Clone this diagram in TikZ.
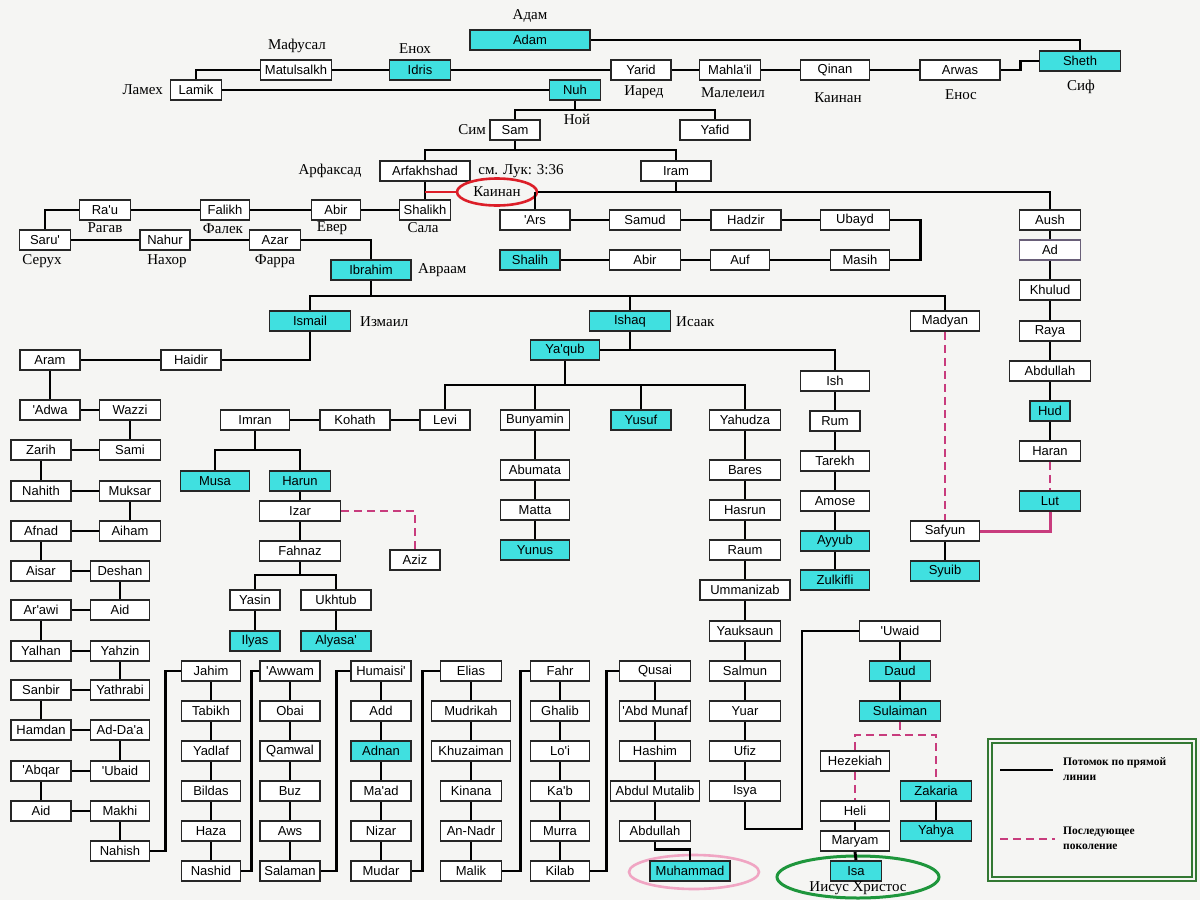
\documentclass[tikz,border=0pt]{standalone}
\usepackage{fontspec}
\setmainfont{Liberation Sans}
\newfontfamily\serf{Liberation Serif}
\usetikzlibrary{shapes.geometric,calc}
\definecolor{bgc}{RGB}{245,245,243}
\definecolor{cyn}{RGB}{64,224,224}
\definecolor{pnk}{RGB}{200,60,125}
\definecolor{redc}{RGB}{220,30,40}
\definecolor{grn}{RGB}{30,150,60}
\definecolor{lgrn}{RGB}{50,120,50}
\definecolor{pinkell}{RGB}{240,165,195}
\definecolor{adc}{RGB}{105,95,120}
\newcommand\ap{\textquotesingle}
\newcommand\nbx[5]{\node[box,minimum width=#4pt] (#1) at (#2,#3) {#5};}
\newcommand\ncx[5]{\node[cbox,minimum width=#4pt] (#1) at (#2,#3) {#5};}
\newcommand\vc[2]{\draw[con] (#1.south) -- (#2.north);}
\newcommand\hc[2]{\draw[con] (#1.east) -- (#2.west);}
\begin{document}
\begin{tikzpicture}[x=1pt,y=-1pt,
 box/.style={draw=black!85, line width=1.7pt, fill=white, minimum height=20pt, inner sep=0pt, font=\fontsize{13}{15}\selectfont},
 cbox/.style={box, fill=cyn},
 lab/.style={font=\serf\fontsize{15}{17}\selectfont, inner sep=0pt},
 con/.style={line width=2.9pt},
 dsh/.style={draw=pnk, line width=2.9pt, dash pattern=on 8pt off 5pt},
 legt/.style={font=\serf\bfseries\fontsize{11.5}{13}\selectfont, inner sep=0pt, anchor=west}]
\fill[bgc] (0,0) rectangle (1200,900);
\useasboundingbox (0,0) rectangle (1200,900);

% ---------- top ----------
\ncx{adam}{530}{40}{120}{Adam}
\ncx{sheth}{1080}{61}{81}{Sheth}
\nbx{arwas}{960}{70}{80}{Arwas}
\nbx{qinan}{835}{70}{69}{Qinan}
\nbx{mahlail}{730}{70}{61}{Mahla\ap il}
\nbx{yarid}{641}{70}{60}{Yarid}
\ncx{idris}{420}{70}{61}{Idris}
\nbx{matul}{296}{70}{71}{Matulsalkh}
\nbx{lamik}{196}{90}{51}{Lamik}
\ncx{nuh}{575}{90}{51}{Nuh}
\nbx{sam}{515}{130}{50}{Sam}
\nbx{yafid}{715}{130}{70}{Yafid}
\nbx{arfa}{425}{171}{90}{Arfakhshad}
\nbx{iram}{676}{171}{70}{Iram}
\node[ellipse, draw=redc, line width=2.6pt, minimum width=80pt, minimum height=27pt, inner sep=0pt, lab] (kainan) at (497,192) {Каинан};
\nbx{shalikh}{425}{210}{51}{Shalikh}
\nbx{abira}{336}{210}{49}{Abir}
\nbx{falikh}{225}{210}{49}{Falikh}
\nbx{rau}{105}{210}{51}{Ra\ap u}
\nbx{saru}{45}{240}{51}{Saru\ap}
\nbx{nahur}{165}{240}{50}{Nahur}
\nbx{azar}{275}{240}{51}{Azar}
\ncx{ibrahim}{371}{270}{80}{Ibrahim}
\nbx{ars}{535}{220}{70}{\ap Ars}
\nbx{samud}{645}{220}{71}{Samud}
\nbx{hadzir}{746}{220}{70}{Hadzir}
\nbx{ubayd}{855}{220}{69}{Ubayd}
\ncx{shalih}{530}{260}{60}{Shalih}
\nbx{abirb}{645}{260}{71}{Abir}
\nbx{auf}{740}{260}{59}{Auf}
\nbx{masih}{860}{260}{59}{Masih}
\nbx{aush}{1050}{220}{61}{Aush}
\node[box, draw=adc, minimum width=61pt] (ad) at (1050,250) {Ad};
\nbx{khulud}{1050}{290}{61}{Khulud}
\nbx{raya}{1050}{331}{61}{Raya}
\nbx{abdullaha}{1050}{371}{81}{Abdullah}
\ncx{hud}{1050}{411}{40}{Hud}
\nbx{haran}{1050}{451}{61}{Haran}
\ncx{lut}{1050}{501}{61}{Lut}
\ncx{ismail}{310}{321}{81}{Ismail}
\ncx{ishaq}{630}{321}{81}{Ishaq}
\nbx{madyan}{945}{321}{69}{Madyan}
\nbx{safyun}{945}{531}{69}{Safyun}
\ncx{syuib}{945}{571}{69}{Syuib}
\nbx{aram}{50}{360}{60}{Aram}
\nbx{haidir}{191}{360}{60}{Haidir}
\ncx{yaqub}{565}{350}{69}{Ya\ap qub}
\nbx{ish}{835}{381}{69}{Ish}
\nbx{levi}{445}{420}{50}{Levi}
\nbx{bunyamin}{535}{420}{69}{Bunyamin}
\ncx{yusuf}{641}{420}{60}{Yusuf}
\nbx{yahudza}{745}{420}{71}{Yahudza}
\nbx{kohath}{355}{420}{70}{Kohath}
\nbx{imran}{255}{420}{69}{Imran}
\ncx{musa}{215}{481}{69}{Musa}
\ncx{harun}{300}{481}{61}{Harun}
\nbx{izar}{300}{511}{81}{Izar}
\nbx{aziz}{415}{560}{50}{Aziz}
\nbx{fahnaz}{300}{551}{81}{Fahnaz}
\nbx{yasin}{255}{600}{50}{Yasin}
\nbx{ukhtub}{336}{600}{70}{Ukhtub}
\ncx{ilyas}{255}{641}{50}{Ilyas}
\ncx{alyasa}{336}{641}{70}{Alyasa\ap}
\nbx{abumata}{535}{470}{69}{Abumata}
\nbx{matta}{535}{510}{69}{Matta}
\ncx{yunus}{535}{550}{69}{Yunus}
\nbx{bares}{745}{470}{71}{Bares}
\nbx{hasrun}{745}{510}{71}{Hasrun}
\nbx{raum}{745}{550}{71}{Raum}
\nbx{ummanizab}{745}{590}{90}{Ummanizab}
\nbx{yauksaun}{745}{631}{71}{Yauksaun}
\nbx{salmun}{745}{671}{71}{Salmun}
\nbx{yuar}{745}{711}{71}{Yuar}
\nbx{ufiz}{745}{751}{71}{Ufiz}
\nbx{isya}{745}{791}{71}{Isya}
\nbx{rum}{835}{421}{50}{Rum}
\nbx{tarekh}{835}{461}{69}{Tarekh}
\nbx{amose}{835}{501}{69}{Amose}
\ncx{ayyub}{835}{541}{69}{Ayyub}
\ncx{zulkifli}{835}{580}{69}{Zulkifli}
\nbx{uwaid}{900}{631}{81}{\ap Uwaid}
\ncx{daud}{900}{671}{61}{Daud}
\ncx{sulaiman}{900}{711}{81}{Sulaiman}
\nbx{hezekiah}{855}{761}{69}{Hezekiah}
\ncx{zakaria}{936}{791}{71}{Zakaria}
\ncx{yahya}{936}{831}{71}{Yahya}
\nbx{heli}{855}{811}{69}{Heli}
\nbx{maryam}{855}{841}{69}{Maryam}
\draw[grn, line width=3pt] (858,877) ellipse (81pt and 21pt);
\ncx{isa}{856}{871}{51}{Isa}
\draw[pinkell, line width=2.6pt] (694,872) ellipse (65pt and 17pt);
\node[cbox, line width=2.8pt, minimum width=80pt] (muhammad) at (690,871) {Muhammad};
\nbx{abdullahb}{655}{831}{71}{Abdullah}
\nbx{abdulmut}{655}{791}{89}{Abdul Mutalib}
\nbx{hashim}{655}{751}{71}{Hashim}
\nbx{abdmunaf}{655}{711}{71}{\ap Abd Munaf}
\nbx{qusai}{655}{671}{71}{Qusai}

% left ladder
\nbx{adwa}{50}{410}{60}{\ap Adwa}
\nbx{wazzi}{130}{410}{61}{Wazzi}
\nbx{zarih}{41}{450}{60}{Zarih}
\nbx{sami}{130}{450}{61}{Sami}
\nbx{nahith}{41}{491}{60}{Nahith}
\nbx{muksar}{130}{491}{61}{Muksar}
\nbx{afnad}{41}{531}{60}{Afnad}
\nbx{aiham}{130}{531}{61}{Aiham}
\nbx{aisar}{41}{571}{60}{Aisar}
\nbx{deshan}{120}{571}{59}{Deshan}
\nbx{arawi}{41}{610}{60}{Ar\ap awi}
\nbx{aida}{120}{610}{59}{Aid}
\nbx{yalhan}{41}{651}{60}{Yalhan}
\nbx{yahzin}{120}{651}{59}{Yahzin}
\nbx{sanbir}{41}{690}{60}{Sanbir}
\nbx{yathrabi}{120}{690}{59}{Yathrabi}
\nbx{hamdan}{41}{730}{60}{Hamdan}
\nbx{adda}{120}{730}{59}{Ad-Da\ap a}
\nbx{abqar}{41}{771}{60}{\ap Abqar}
\nbx{ubaid}{120}{771}{59}{\ap Ubaid}
\nbx{aidb}{41}{811}{60}{Aid}
\nbx{makhi}{120}{811}{59}{Makhi}
\nbx{nahish}{120}{851}{59}{Nahish}

% bottom columns
\nbx{jahim}{211}{671}{59}{Jahim}
\nbx{tabikh}{211}{711}{59}{Tabikh}
\nbx{yadlaf}{211}{751}{59}{Yadlaf}
\nbx{bildas}{211}{791}{59}{Bildas}
\nbx{haza}{211}{831}{59}{Haza}
\nbx{nashid}{211}{871}{59}{Nashid}
\nbx{awwam}{290}{671}{60}{\ap Awwam}
\nbx{obai}{290}{711}{60}{Obai}
\nbx{qamwal}{290}{751}{60}{Qamwal}
\nbx{buz}{290}{791}{60}{Buz}
\nbx{aws}{290}{831}{60}{Aws}
\nbx{salaman}{290}{871}{60}{Salaman}
\nbx{humaisi}{381}{671}{60}{Humaisi\ap}
\nbx{add}{381}{711}{60}{Add}
\ncx{adnan}{381}{751}{60}{Adnan}
\nbx{maad}{381}{791}{60}{Ma\ap ad}
\nbx{nizar}{381}{831}{60}{Nizar}
\nbx{mudar}{381}{871}{60}{Mudar}
\nbx{elias}{471}{671}{61}{Elias}
\nbx{mudrikah}{471}{711}{79}{Mudrikah}
\nbx{khuzaiman}{471}{751}{79}{Khuzaiman}
\nbx{kinana}{471}{791}{61}{Kinana}
\nbx{annadr}{471}{831}{61}{An-Nadr}
\nbx{malik}{471}{871}{61}{Malik}
\nbx{fahr}{560}{671}{59}{Fahr}
\nbx{ghalib}{560}{711}{59}{Ghalib}
\nbx{loi}{560}{751}{59}{Lo\ap i}
\nbx{kab}{560}{791}{59}{Ka\ap b}
\nbx{murra}{560}{831}{59}{Murra}
\nbx{kilab}{560}{871}{59}{Kilab}

% ---------- labels ----------
\node[lab] at (530,16) {Адам};
\node[lab] at (297,46) {Мафусал};
\node[lab] at (415,49) {Енох};
\node[lab, anchor=east] at (163,90) {Ламех};
\node[lab] at (644,92) {Иаред};
\node[lab] at (733,93) {Малелеил};
\node[lab] at (838,98) {Каинан};
\node[lab] at (961,95) {Енос};
\node[lab] at (1081,87) {Сиф};
\node[lab] at (577,119) {Ной};
\node[lab, anchor=east] at (486,130) {Сим};
\node[lab] at (330,171) {Арфаксад};
\node[lab] at (521,171) {см. Лук: 3:36};
\node[lab] at (423,228) {Сала};
\node[lab] at (332,228) {Евер};
\node[lab] at (223,229) {Фалек};
\node[lab] at (105,228) {Рагав};
\node[lab] at (42,261) {Серух};
\node[lab] at (167,261) {Нахор};
\node[lab] at (275,261) {Фарра};
\node[lab, anchor=west] at (418,270) {Авраам};
\node[lab, anchor=west] at (360,322) {Измаил};
\node[lab, anchor=west] at (676,322) {Исаак};
\node[lab] at (858,888) {Иисус Христос};

% ---------- connectors ----------
\coordinate (fN) at (575,110);
\coordinate (fS) at (515,150);
\coordinate (kr) at (425,192);
\coordinate (fI) at (371,296);
\coordinate (fY) at (565,385);
\coordinate (fM) at (255,450);
\coordinate (fF) at (300,575);
\coordinate (cU) at (802,829);
\coordinate (fSu) at (900,735);

\draw[con] (adam.east) -| (sheth.north);
\draw[con] (arwas.east) -- ++(20,0) |- (sheth.west);
\hc{qinan}{arwas} \hc{mahlail}{qinan} \hc{yarid}{mahlail} \hc{idris}{yarid} \hc{matul}{idris}
\draw[con] (matul.west) -| (lamik.north);
\hc{lamik}{nuh}
\draw[con] (nuh.south) -- (fN);
\draw[con] (sam.north) |- (fN) -| (yafid.north);
\draw[con] (sam.south) -- (fS);
\draw[con] (arfa.north) |- (fS) -| (iram.north);
\vc{arfa}{shalikh}
\draw[redc, line width=2.9pt] (kr) -- (kainan.west);
\draw[con] (kainan.east) -| (aush.north);
\draw[con] (iram.south) -- (iram.south |- kainan.east);
\draw[con] (ars.north) -- (ars.north |- kainan.east);
\hc{abira}{shalikh} \hc{falikh}{abira} \hc{rau}{falikh}
\draw[con] (rau.west) -| (saru.north);
\hc{saru}{nahur} \hc{nahur}{azar}
\draw[con] (azar.east) -| (ibrahim.north);
\draw[con] (ibrahim.south) -- (fI);
\draw[con] (ismail.north) |- (fI) -| (madyan.north);
\draw[con] (ishaq.north) -- (ishaq.north |- fI);
\hc{ars}{samud} \hc{samud}{hadzir} \hc{hadzir}{ubayd}
\draw[con] (ubayd.east) -- ++(30,0) |- (masih.east);
\hc{shalih}{abirb} \hc{abirb}{auf} \hc{auf}{masih}
\vc{aush}{ad} \vc{ad}{khulud} \vc{khulud}{raya} \vc{raya}{abdullaha} \vc{abdullaha}{hud} \vc{hud}{haran}
\draw[con] (ismail.south) |- (haidir.east);
\hc{aram}{haidir}
\draw[con] (yaqub.east) -| (ish.north);
\draw[con] (ishaq.south) -- (ishaq.south |- yaqub.east);
\draw[con] (yaqub.south) -- (fY);
\draw[con] (levi.north) |- (fY) -| (yahudza.north);
\draw[con] (bunyamin.north) -- (bunyamin.north |- fY);
\draw[con] (yusuf.north) -- (yusuf.north |- fY);
\hc{kohath}{levi} \hc{imran}{kohath}
\draw[con] (imran.south) -- (fM);
\draw[con] (musa.north) |- (fM) -| (harun.north);
\vc{harun}{izar} \vc{izar}{fahnaz}
\draw[con] (fahnaz.south) -- (fF);
\draw[con] (yasin.north) |- (fF) -| (ukhtub.north);
\vc{yasin}{ilyas} \vc{ukhtub}{alyasa}
\vc{bunyamin}{abumata} \vc{abumata}{matta} \vc{matta}{yunus}
\vc{yahudza}{bares} \vc{bares}{hasrun} \vc{hasrun}{raum} \vc{raum}{ummanizab} \vc{ummanizab}{yauksaun}
\vc{yauksaun}{salmun} \vc{salmun}{yuar} \vc{yuar}{ufiz} \vc{ufiz}{isya}
\draw[con] (isya.south) |- (cU) |- (uwaid.west);
\vc{uwaid}{daud} \vc{daud}{sulaiman}
\vc{zakaria}{yahya} \vc{heli}{maryam} \vc{maryam}{isa}
\vc{ish}{rum} \vc{rum}{tarekh} \vc{tarekh}{amose} \vc{amose}{ayyub} \vc{ayyub}{zulkifli}
\vc{safyun}{syuib}
% left ladder
\vc{aram}{adwa} \hc{adwa}{wazzi} \vc{wazzi}{sami} \hc{zarih}{sami} \vc{zarih}{nahith}
\hc{nahith}{muksar} \vc{muksar}{aiham} \hc{afnad}{aiham} \vc{afnad}{aisar} \hc{aisar}{deshan}
\vc{deshan}{aida} \hc{arawi}{aida} \vc{arawi}{yalhan} \hc{yalhan}{yahzin} \vc{yahzin}{yathrabi}
\hc{sanbir}{yathrabi} \vc{sanbir}{hamdan} \hc{hamdan}{adda} \vc{adda}{ubaid} \hc{abqar}{ubaid}
\vc{abqar}{aidb} \hc{aidb}{makhi} \vc{makhi}{nahish}
\draw[con] (nahish.east) -- ++(15,0) |- (jahim.west);
% bottom columns
\vc{jahim}{tabikh} \vc{tabikh}{yadlaf} \vc{yadlaf}{bildas} \vc{bildas}{haza} \vc{haza}{nashid}
\vc{awwam}{obai} \vc{obai}{qamwal} \vc{qamwal}{buz} \vc{buz}{aws} \vc{aws}{salaman}
\vc{humaisi}{add} \vc{add}{adnan} \vc{adnan}{maad} \vc{maad}{nizar} \vc{nizar}{mudar}
\vc{elias}{mudrikah} \vc{mudrikah}{khuzaiman} \vc{khuzaiman}{kinana} \vc{kinana}{annadr} \vc{annadr}{malik}
\vc{fahr}{ghalib} \vc{ghalib}{loi} \vc{loi}{kab} \vc{kab}{murra} \vc{murra}{kilab}
\draw[con] (nashid.east) -- ++(10,0) |- (awwam.west);
\draw[con] (salaman.east) -- ++(16,0) |- (humaisi.west);
\draw[con] (mudar.east) -- ++(11,0) |- (elias.west);
\draw[con] (malik.east) -- ++(18,0) |- (fahr.west);
\draw[con] (kilab.east) -- ++(16,0) |- (qusai.west);
\vc{qusai}{abdmunaf} \vc{abdmunaf}{hashim} \vc{hashim}{abdulmut} \vc{abdulmut}{abdullahb}
\draw[con] (abdullahb.south) -- ++(0,8) -| (muhammad.north);
% pink
\draw[dsh] (izar.east) -| (aziz.north);
\draw[dsh] (madyan.south) -- (safyun.north);
\draw[dsh] (haran.south) -- (lut.north);
\draw[dsh] (sulaiman.south) -- (fSu);
\draw[dsh] (hezekiah.north) |- (fSu) -| (zakaria.north);
\draw[dsh] (hezekiah.south) -- (heli.north);
\draw[draw=pnk, line width=3pt] (lut.south) |- (safyun.east);

% ---------- legend ----------
\draw[lgrn, line width=1.3pt] (988,739) rectangle (1196,881);
\draw[lgrn, line width=1.3pt] (992,743) rectangle (1192,877);
\coordinate (la) at (1000,770);
\coordinate (lb) at (1053,770);
\coordinate (lc) at (1000,839);
\coordinate (ld) at (1055,839);
\draw[con] (la) -- (lb);
\draw[dsh] (lc) -- (ld);
\node[legt] at (1063,763) {Потомок по прямой};
\node[legt] at (1063,778) {линии};
\node[legt] at (1063,832) {Последующее};
\node[legt] at (1063,847) {поколение};
\end{tikzpicture}
\end{document}
